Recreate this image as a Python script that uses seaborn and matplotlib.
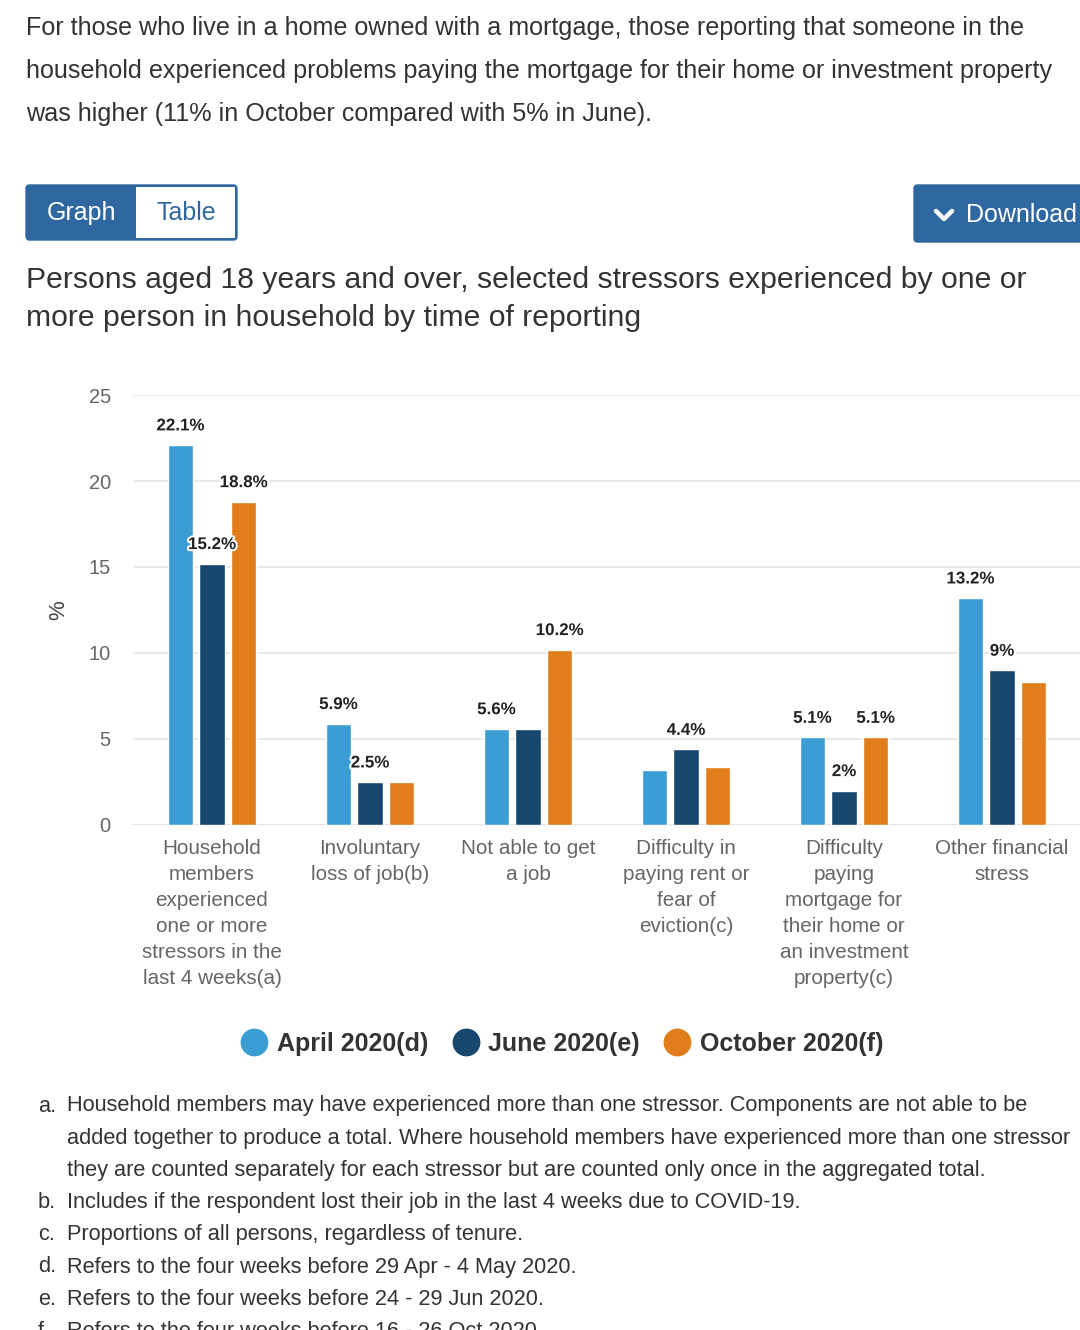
import numpy as np
import pandas as pd
import matplotlib
matplotlib.use("Agg")
import matplotlib.pyplot as plt
import matplotlib.patheffects as pe
from matplotlib.patches import FancyBboxPatch, Rectangle
from matplotlib.lines import Line2D
import seaborn as sns

# ── Data ──────────────────────────────────────────────────────────────────────
categories = [
    "Household\nmembers\nexperienced\none or more\nstressors in the\nlast 4 weeks(a)",
    "Involuntary\nloss of job(b)",
    "Not able to get\na job",
    "Difficulty in\npaying rent or\nfear of\neviction(c)",
    "Difficulty\npaying\nmortgage for\ntheir home or\nan investment\nproperty(c)",
    "Other financial\nstress",
]
series = ["April 2020(d)", "June 2020(e)", "October 2020(f)"]
april = [22.1, 5.9, 5.6, 3.2, 5.1, 13.2]
june = [15.2, 2.5, 5.6, 4.4, 2.0, 9.0]
october = [18.8, 2.5, 10.2, 3.4, 5.1, 8.3]

# which data labels the original chart shows (others hidden on overlap)
april_shown = [True, True, True, False, True, True]
june_shown = [True, True, False, True, True, True]
october_shown = [True, False, True, False, True, False]

yticks = [0, 5, 10, 15, 20, 25]

header = [
    "For those who live in a home owned with a mortgage, those reporting that someone in the",
    "household experienced problems paying the mortgage for their home or investment property",
    "was higher (11% in October compared with 5% in June).",
]
title = [
    "Persons aged 18 years and over, selected stressors experienced by one or",
    "more person in household by time of reporting",
]
footnotes = [
    ("a.", "Household members may have experienced more than one stressor. Components are not able to be"),
    ("", "added together to produce a total. Where household members have experienced more than one stressor"),
    ("", "they are counted separately for each stressor but are counted only once in the aggregated total."),
    ("b.", "Includes if the respondent lost their job in the last 4 weeks due to COVID-19."),
    ("c.", "Proportions of all persons, regardless of tenure."),
    ("d.", "Refers to the four weeks before 29 Apr - 4 May 2020."),
    ("e.", "Refers to the four weeks before 24 - 29 Jun 2020."),
    ("f.", "Refers to the four weeks before 16 - 26 Oct 2020."),
]

colors = ["#3c9dd5", "#17476e", "#e17d1b"]
BLUE_BTN = "#2f68a1"
TEXT = "#333333"
GRAY = "#666666"

df = pd.DataFrame({
    "category": categories * 3,
    "series": np.repeat(series, len(categories)),
    "value": april + june + october,
})
shown = [april_shown, june_shown, october_shown]

# ── Figure ────────────────────────────────────────────────────────────────────
sns.set_theme(style="white")
plt.rcParams["font.family"] = ["Liberation Sans", "DejaVu Sans"]

W, H = 1080, 1330
fig = plt.figure(figsize=(W / 100, H / 100), dpi=100)
fig.patch.set_facecolor("white")


def fx(x):
    return x / W


def fy(y):
    return 1 - y / H


# Header paragraph
for i, line in enumerate(header):
    fig.text(fx(26), fy(28 + 43 * i), line, fontsize=18.1, color=TEXT, va="center")

# Graph / Table toggle
fig.patches.append(FancyBboxPatch((fx(26), fy(240)), fx(211), 55 / H,
                                  boxstyle="round,pad=0,rounding_size=0.003",
                                  transform=fig.transFigure, facecolor=BLUE_BTN,
                                  edgecolor=BLUE_BTN, lw=1))
fig.patches.append(Rectangle((fx(136), fy(238)), fx(99), 51 / H,
                             transform=fig.transFigure, facecolor="white",
                             edgecolor="none"))
fig.text(fx(82), fy(213), "Graph", fontsize=18, color="white", ha="center", va="center")
fig.text(fx(186), fy(213), "Table", fontsize=18, color=BLUE_BTN, ha="center", va="center")

# Download button
fig.patches.append(FancyBboxPatch((fx(914), fy(242)), fx(180), 57 / H,
                                  boxstyle="round,pad=0,rounding_size=0.003",
                                  transform=fig.transFigure, facecolor=BLUE_BTN,
                                  edgecolor=BLUE_BTN, lw=1))
fig.lines.append(Line2D([fx(936), fx(944), fx(952)], [fy(211), fy(219), fy(211)],
                        transform=fig.transFigure, color="white", lw=3.2,
                        solid_capstyle="round", solid_joinstyle="round"))
fig.text(fx(966), fy(215), "Download", fontsize=18, color="white", va="center")

# Chart title
for i, line in enumerate(title):
    fig.text(fx(26), fy(280 + 38 * i), line, fontsize=21.7, color=TEXT, va="center")

# ── Bar chart ─────────────────────────────────────────────────────────────────
ax = fig.add_axes([fx(133), fy(825), fx(948), 430 / H])
sns.barplot(data=df, x="category", y="value", hue="series", hue_order=series,
            palette=colors, width=0.6, gap=0.2, saturation=1, legend=False, ax=ax)

ax.set_ylim(0, 25)
ax.set_xlim(-0.5, len(categories) - 0.5)
ax.set_yticks(yticks)
ax.yaxis.grid(True, color="#e6e6e6", lw=1.2)
ax.set_axisbelow(True)
for s in ax.spines.values():
    s.set_visible(False)
ax.axhline(0, color="#d8d8d8", lw=1.5, zorder=0.5)
ax.tick_params(axis="y", length=0, pad=16, labelsize=14.5, labelcolor=GRAY)
ax.tick_params(axis="x", length=0, pad=10, labelsize=14.9, labelcolor=GRAY)
for lab in ax.get_xticklabels():
    lab.set_linespacing(1.47)
    lab.set_va("top")
ax.set_xlabel("")
ax.set_ylabel("%", fontsize=16, color="#444444", labelpad=14)

for cont, vals, mask in zip(ax.containers, [april, june, october], shown):
    for bar, v, m in zip(cont, vals, mask):
        if not m:
            continue
        ax.annotate(f"{v:g}%", (bar.get_x() + bar.get_width() / 2, bar.get_height()),
                    xytext=(0, 19), textcoords="offset pixels", ha="center",
                    va="center", fontsize=12.2, fontweight="bold", color="#222222",
                    path_effects=[pe.withStroke(linewidth=3, foreground="white")])

# Legend
handles = [Line2D([], [], marker="o", ls="", markersize=19, color=c) for c in colors]
leg = fig.legend(handles, series, loc="center", bbox_to_anchor=(fx(560), fy(1044)),
                 ncol=3, frameon=False, handletextpad=0.2, handlelength=1.4,
                 columnspacing=0.8, prop={"size": 18, "weight": "bold"})
for t in leg.get_texts():
    t.set_color(TEXT)

# Footnotes
for i, (letter, text) in enumerate(footnotes):
    y = fy(1106 + 32.2 * i)
    if letter:
        fig.text(fx(38), y, letter, fontsize=15.7, color=TEXT, va="center")
    fig.text(fx(67), y, text, fontsize=15.7, color=TEXT, va="center")

fig.savefig("out.png", dpi=100, facecolor="white")
